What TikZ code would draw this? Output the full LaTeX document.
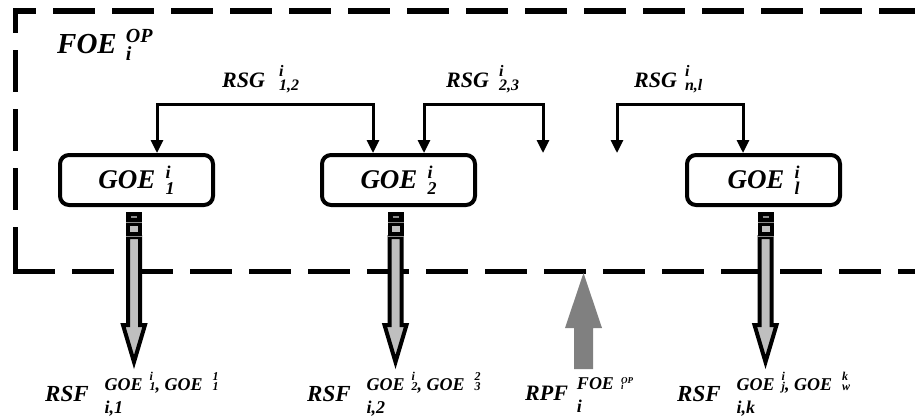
\documentclass[tikz,border=0pt]{standalone}
\usepackage{fontspec}
\setmainfont{Liberation Serif}
\usetikzlibrary{arrows.meta,calc}

% stacked upper/lower index, each row raised by its own amount
\newcommand{\ix}[4]{\ooalign{\raisebox{#1}{#3}\cr\raisebox{#2}{#4}\cr}}
\newcommand{\fs}[2]{{\fontsize{#1}{#1}\selectfont#2}}
\newcommand{\bx}[2]{\ix{10pt}{-6pt}{\fs{18}{#1}}{\fs{18}{#2}}}
\newcommand{\sx}[2]{\ix{10pt}{0pt}{\fs{12}{#1}}{\fs{12}{#2}}}

% pipe with outlined arrow below a box
\newcommand{\pipe}[2][0]{%
  \begin{scope}[shift={($(#2.south)+(#1,0)$)}]
    \fill (-8,5) rectangle (8,30);
    \filldraw[fill=black!25, line width=4pt] (-6,30) -- (-6,118) -- (-11,118) -- (0,155) -- (11,118) -- (6,118) -- (6,30) -- cycle;
    \draw[black!45, line width=0.8pt] (-8,15) -- (8,15) (-8,29.5) -- (8,29.5);
    \draw[black!45, line width=1.2pt] (-3,10) -- (3,10);
    \fill[black!25] (-4,18.5) rectangle (4,25);
  \end{scope}}

\begin{document}
\begin{tikzpicture}[x=1pt, y=-1pt,
  goe/.style={draw, line width=4pt, rounded corners=9pt, minimum width=153pt, minimum height=50pt,
    font=\fontsize{27}{27}\selectfont\bfseries\itshape},
  lbl/.style={anchor=base west, inner sep=0pt, font=\fontsize{23}{23}\selectfont\bfseries\itshape},
  rsglbl/.style={lbl, font=\fontsize{22}{22}\selectfont\bfseries\itshape},
  rsg/.style={line width=3pt, {Triangle[length=13pt,width=12pt]}-{Triangle[length=13pt,width=12pt]}},
  frame/.style={line width=5.5pt, dash pattern=on 42pt off 17pt}]
  \useasboundingbox (0,0) rectangle (915,416);

  \draw[frame, dash phase=29.5pt] (950,11) -- (15.5,11) -- (15.5,271.5);
  \draw[frame] (13,271.5) -- (950,271.5);

  \node[lbl, font=\fontsize{29}{29}\selectfont\bfseries\itshape] (foe) at (57,53)
    {FOE\hspace{9pt}\ix{11pt}{-7pt}{\fs{20}{OP}}{\fs{20}{i}}};

  \node[goe] (g1) at (136.5,180) {GOE\hspace{10pt}\bx{i}{1}};
  \node[goe] (g2) at (398.5,180) {GOE\hspace{10pt}\bx{i}{2}};
  \node[goe] (gl) at (763.5,180) {GOE\hspace{10pt}\bx{i}{l}};

  \coordinate (e23) at (543,153);
  \coordinate (enl) at (617,153);

  \draw[rsg] ([xshift=20.5pt]g1.north) -- ++(0,-49) -| ([xshift=-25.5pt]g2.north);
  \draw[rsg] ([xshift=25.5pt]g2.north) -- ++(0,-49) -| (e23);
  \draw[rsg] (enl) -- ++(0,-49) -| ([xshift=-20.5pt]gl.north);

  \node[rsglbl] (r12) at (222,87) {RSG\hspace{14pt}\ix{11pt}{-3pt}{\fs{16}{i}}{\fs{16}{1,2}}};
  \node[rsglbl] (r23) at (446,87) {RSG\hspace{10pt}\ix{11pt}{-3pt}{\fs{16}{i}}{\fs{16}{2,3}}};
  \node[rsglbl] (rnl) at (634,87) {RSG\hspace{8pt}\ix{11pt}{-3pt}{\fs{16}{i}}{\fs{16}{n,l}}};

  \pipe[-2.5]{g1}
  \pipe[-3]{g2}
  \pipe[2]{gl}

  \coordinate (dp) at (583.5,273);
  \fill[black!50] (dp) -- ++(18.5,55) -- ++(-9,0) -- ++(0,41) -- ++(-19,0) -- ++(0,-41) -- ++(-9,0) -- cycle;

  \node[lbl] (rsf1) at (45,401) {RSF\hspace{16pt}\ix{11pt}{-12pt}%
    {\fs{18}{GOE\hspace{7pt}\sx{i}{1}, GOE\hspace{10pt}\sx{1}{1}}}{\fs{18}{i,1}}};
  \node[lbl] (rsf2) at (307,401) {RSF\hspace{16pt}\ix{11pt}{-12pt}%
    {\fs{18}{GOE\hspace{7pt}\sx{i}{2}, GOE\hspace{10pt}\sx{2}{3}}}{\fs{18}{i,2}}};
  \node[lbl, font=\fontsize{22}{22}\selectfont\bfseries\itshape] (rpf) at (525,400) {RPF\hspace{9pt}\ix{11pt}{-12pt}%
    {\fs{18}{FOE\hspace{7pt}\ix{6pt}{0pt}{\fs{9}{OP}}{\fs{9}{i}}}}{\fs{18}{i}}};
  \node[lbl] (rsfl) at (677,401) {RSF\hspace{16pt}\ix{11pt}{-12pt}%
    {\fs{18}{GOE\hspace{7pt}\sx{i}{j}, GOE\hspace{10pt}\sx{k}{w}}}{\fs{18}{i,k}}};
\end{tikzpicture}
\end{document}
